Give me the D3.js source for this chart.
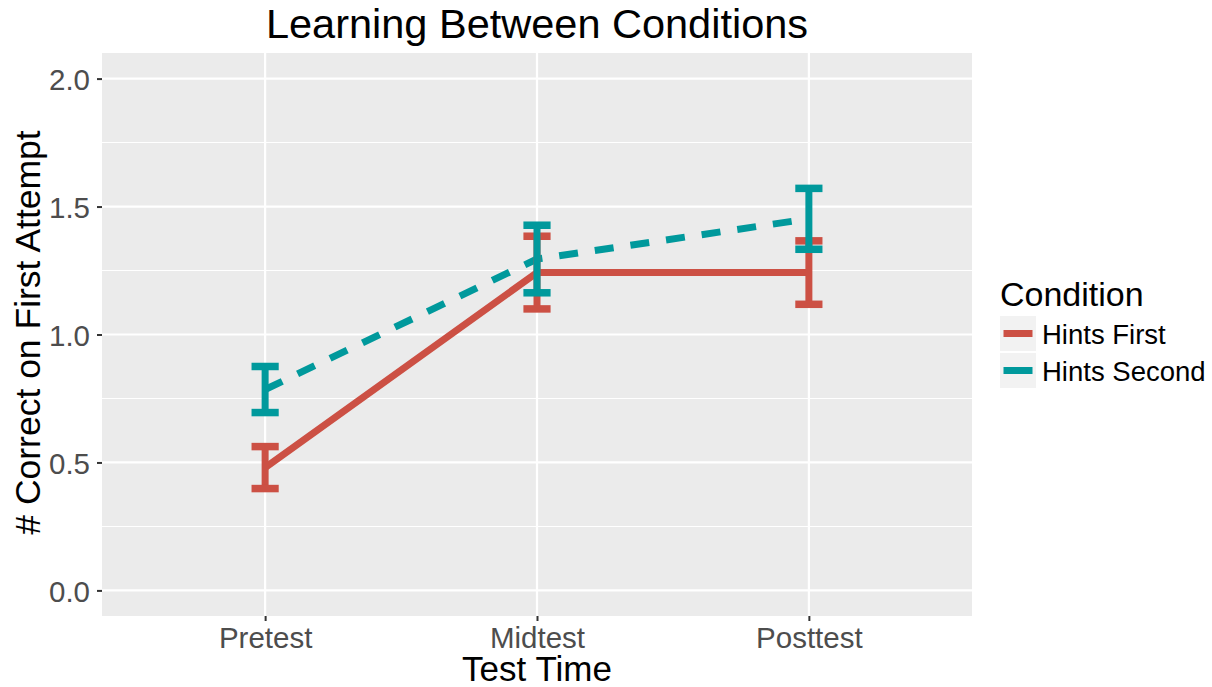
<!DOCTYPE html>
<html>
<head>
<meta charset="utf-8">
<script src="https://cdn.jsdelivr.net/npm/d3@7"></script>
<style>
  html, body { margin: 0; padding: 0; background: #ffffff; }
  svg { display: block; font-family: "Liberation Sans", Arial, Helvetica, sans-serif; }
</style>
</head>
<body>
<svg id="chart" width="1212" height="687"></svg>
<script>
// ---- Data ----
const categories = ["Pretest", "Midtest", "Posttest"];
const seriesNames = ["Hints First", "Hints Second"];
const hintsFirstMean = [0.48, 1.242, 1.242];
const hintsFirstErr = [0.082, 0.142, 0.124];
const hintsSecondMean = [0.785, 1.295, 1.452];
const hintsSecondErr = [0.09, 0.132, 0.119];
const yTicks = [0, 0.5, 1.0, 1.5, 2.0];
const yMinorTicks = [0.25, 0.75, 1.25, 1.75];

const colors = ["#CC5044", "#00999C"];
const dashes = [null, "19,17"];

const series = [
  { name: seriesNames[0], mean: hintsFirstMean, err: hintsFirstErr },
  { name: seriesNames[1], mean: hintsSecondMean, err: hintsSecondErr }
];

// ---- Layout ----
const panel = { left: 102, right: 972, top: 53, bottom: 616 };
const svg = d3.select("#chart");

const x = d3.scalePoint().domain(categories).range([panel.left, panel.right]).padding(0.6);
const y = d3.scaleLinear().domain([-0.1, 2.1]).range([panel.bottom, panel.top]);

// panel background
svg.append("rect")
  .attr("x", panel.left).attr("y", panel.top)
  .attr("width", panel.right - panel.left).attr("height", panel.bottom - panel.top)
  .attr("fill", "#EBEBEB");

// grid
const grid = svg.append("g");
grid.selectAll(".minor").data(yMinorTicks).enter().append("line")
  .attr("x1", panel.left).attr("x2", panel.right)
  .attr("y1", d => y(d)).attr("y2", d => y(d))
  .attr("stroke", "#ffffff").attr("stroke-width", 1.1);
grid.selectAll(".majory").data(yTicks).enter().append("line")
  .attr("x1", panel.left).attr("x2", panel.right)
  .attr("y1", d => y(d)).attr("y2", d => y(d))
  .attr("stroke", "#ffffff").attr("stroke-width", 2.2);
grid.selectAll(".majorx").data(categories).enter().append("line")
  .attr("y1", panel.top).attr("y2", panel.bottom)
  .attr("x1", d => x(d)).attr("x2", d => x(d))
  .attr("stroke", "#ffffff").attr("stroke-width", 2.2);

// axes
const yAxis = svg.append("g")
  .attr("transform", `translate(${panel.left},0)`)
  .call(d3.axisLeft(y).tickValues(yTicks).tickFormat(d3.format(".1f")).tickSize(5).tickPadding(7));
const xAxis = svg.append("g")
  .attr("transform", `translate(0,${panel.bottom})`)
  .call(d3.axisBottom(x).tickSize(5).tickPadding(6));
[yAxis, xAxis].forEach(a => {
  a.select(".domain").remove();
  a.selectAll(".tick line").attr("stroke", "#333333").attr("stroke-width", 2);
  a.selectAll(".tick text").attr("fill", "#4D4D4D")
    .style("font-size", "29.5px")
    .style("font-family", '"Liberation Sans", Arial, Helvetica, sans-serif');
});
yAxis.selectAll(".tick text").attr("dy", "0.36em");
xAxis.selectAll(".tick text").attr("dy", "0.71em");

// lines
const lineGen = d3.line().x((d, i) => x(categories[i])).y(d => y(d));
series.forEach((s, k) => {
  svg.append("path")
    .attr("d", lineGen(s.mean))
    .attr("fill", "none")
    .attr("stroke", colors[k])
    .attr("stroke-width", 7)
    .attr("stroke-linecap", "butt")
    .attr("stroke-linejoin", "round")
    .attr("stroke-dasharray", dashes[k]);
});

// error bars
const capHalf = x.step() * 0.05;
series.forEach((s, k) => {
  const g = svg.append("g").attr("stroke", colors[k]).attr("fill", "none");
  categories.forEach((c, i) => {
    const cx = x(c);
    const top = y(s.mean[i] + s.err[i]);
    const bot = y(s.mean[i] - s.err[i]);
    g.append("line").attr("x1", cx).attr("x2", cx).attr("y1", top).attr("y2", bot).attr("stroke-width", 7);
    g.append("line").attr("x1", cx - capHalf).attr("x2", cx + capHalf).attr("y1", top).attr("y2", top).attr("stroke-width", 7.5);
    g.append("line").attr("x1", cx - capHalf).attr("x2", cx + capHalf).attr("y1", bot).attr("y2", bot).attr("stroke-width", 7.5);
  });
});

// title
svg.append("text")
  .attr("x", (panel.left + panel.right) / 2).attr("y", 38)
  .attr("text-anchor", "middle")
  .style("font-size", "41.5px").attr("fill", "#000")
  .text("Learning Between Conditions");

// axis titles
svg.append("text")
  .attr("x", (panel.left + panel.right) / 2).attr("y", 681)
  .attr("text-anchor", "middle")
  .style("font-size", "35px").attr("fill", "#000")
  .text("Test Time");
svg.append("text")
  .attr("transform", `translate(40,${(panel.top + panel.bottom) / 2 - 2}) rotate(-90)`)
  .attr("text-anchor", "middle")
  .style("font-size", "35.5px").attr("fill", "#000")
  .text("# Correct on First Attempt");

// legend
const legend = svg.append("g").attr("transform", "translate(1000,0)");
legend.append("text").attr("x", 0).attr("y", 306)
  .style("font-size", "34px").attr("fill", "#000").text("Condition");
seriesNames.forEach((n, k) => {
  const ky = 316 + k * 37;
  legend.append("rect").attr("x", 0).attr("y", ky).attr("width", 36).attr("height", 35).attr("fill", "#F2F2F2");
  legend.append("line").attr("x1", 3.5).attr("x2", 32.5).attr("y1", ky + 17.5).attr("y2", ky + 17.5)
    .attr("stroke", colors[k]).attr("stroke-width", 7);
  legend.append("text").attr("x", 42).attr("y", ky + 28)
    .style("font-size", "27.5px").attr("fill", "#000").text(n);
});
</script>
</body>
</html>
